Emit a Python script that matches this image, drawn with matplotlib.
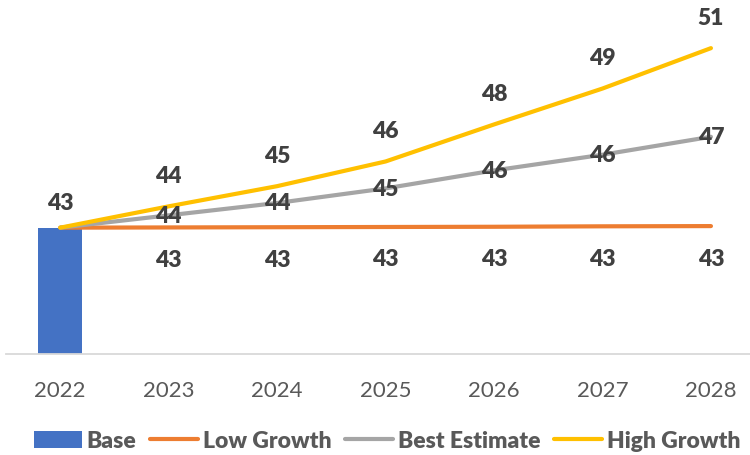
import matplotlib.pyplot as plt

years = ['2022', '2023', '2024', '2025', '2026', '2027', '2028']
base = [43]
low_growth = [43.0, 43.01, 43.02, 43.03, 43.04, 43.06, 43.07]
best_estimate = [43.0, 43.55, 44.1, 44.75, 45.55, 46.25, 47.05]
high_growth = [43.0, 43.95, 44.85, 45.95, 47.6, 49.2, 51.0]

plt.rcParams['font.family'] = ['Lato', 'DejaVu Sans']

fig = plt.figure(figsize=(7.5, 4.56), dpi=100)
ax = fig.add_axes([6 / 750, 101 / 456, 744 / 750, 355 / 456])

x = list(range(len(years)))
ax.bar(x[:1], base, width=0.41, color='#4472C4', label='Base', zorder=2)
ax.plot(x, low_growth, color='#ED7D31', lw=3, solid_capstyle='round', label='Low Growth', zorder=3)
ax.plot(x, best_estimate, color='#A5A5A5', lw=3, solid_capstyle='round', label='Best Estimate', zorder=3)
ax.plot(x, high_growth, color='#FFC000', lw=3, solid_capstyle='round', label='High Growth', zorder=3)

lbl = dict(ha='center', va='center', fontsize=16.5, fontweight=800, color='#404040',
           textcoords='offset points', zorder=5)
ax.annotate(f'{base[0]:.0f}', (0, base[0]), xytext=(0, 18), **lbl)
for i in x[1:]:
    ax.annotate(f'{low_growth[i]:.0f}', (i, low_growth[i]), xytext=(0, -23), **lbl)
    ax.annotate(f'{best_estimate[i]:.0f}', (i, best_estimate[i]), xytext=(0, 0), **lbl)
    ax.annotate(f'{high_growth[i]:.0f}', (i, high_growth[i]), xytext=(0, 22), **lbl)

ax.set_xlim(-0.5, 6.36)
ax.set_ylim(37.37, 53.19)
ax.set_xticks(x)
ax.set_xticklabels(years, fontsize=16, color='#595959')
ax.tick_params(axis='x', length=0, pad=19)
ax.set_yticks([])
for side in ['left', 'right', 'top']:
    ax.spines[side].set_visible(False)
ax.spines['bottom'].set_color('#D9D9D9')
ax.spines['bottom'].set_linewidth(1.3)

# bar first in the legend, then the three scenarios
handles, labels = ax.get_legend_handles_labels()
order = [3, 0, 1, 2]
fig.legend([handles[k] for k in order], [labels[k] for k in order],
           loc='center', bbox_to_anchor=(387 / 750, 1 - 442 / 456), ncol=4, frameon=False,
           prop={'size': 16.5, 'weight': 800}, labelcolor='#595959', handlelength=2.1,
           handleheight=0.7, handletextpad=0.2, columnspacing=0.6, borderaxespad=0)

fig.savefig('out.png', dpi=100)
